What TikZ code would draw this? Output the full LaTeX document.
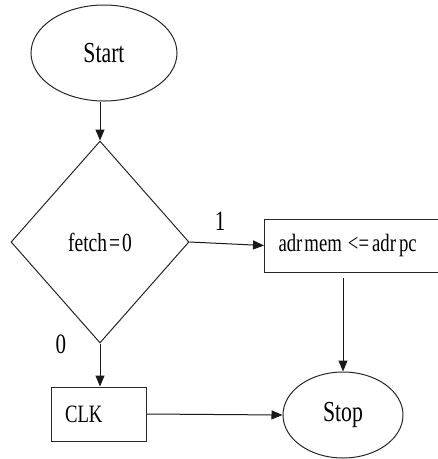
\documentclass[tikz,border=0pt]{standalone}
\usepackage{fontspec}
\setmainfont[FakeStretch=0.75]{Liberation Serif}
\usetikzlibrary{shapes.geometric,arrows.meta}
\newcommand{\fsz}[1]{\fontsize{#1}{#1}\selectfont}
\begin{document}
\begin{tikzpicture}[x=1pt,y=-1pt,
  every node/.style={text=black},
  outline/.style={draw=black!85, line width=1pt},
  terminal/.style={outline, ellipse, inner sep=0pt, font=\fsz{29}},
  decision/.style={outline, diamond, inner sep=0pt, font=\fsz{26}},
  process/.style={outline, rectangle, inner sep=0pt, font=\fsz{25}},
  flow/.style={draw=black!90, line width=1pt, -{Triangle[length=11pt,width=9pt]}},
  tag/.style={inner sep=0pt, font=\fsz{28}}]
  \useasboundingbox (0,0) rectangle (438,459);

  \node[terminal, minimum width=146pt, minimum height=96pt] (start) at (104,53) {Start};
  \node[decision, minimum width=178pt, minimum height=202pt] (dec) at (100,242) {fetch\kern2pt=\kern2pt0};
  \node[process, anchor=west, minimum width=178pt, minimum height=53pt,
        text width=164pt, inner xsep=14pt, align=left] (adr) at (264,245.5)
        {adr\kern2pt mem\kern6pt<=\kern3pt adr\kern3pt pc};
  \node[terminal, minimum width=120pt, minimum height=86pt] (stop) at (343,415) {Stop};
  \node[process, minimum width=81pt, minimum height=54pt,
        text width=67pt, inner xsep=14pt, align=left] (clk) at (98.5,414) {CLK};

  \node[tag] (one) at (220,221) {1};
  \node[tag] (zero) at (61,344) {0};

  \draw[flow] (start.south -| dec.north) -- (dec.north);
  \draw[flow] (dec.east) -- (adr.west);
  \draw[flow] (stop.north |- adr.south) ++(0,5) -- (stop.north);
  \draw[flow] (dec.south) -- (clk.north -| dec.south);
  \draw[flow] (clk.east) -- (stop.west);
\end{tikzpicture}
\end{document}
